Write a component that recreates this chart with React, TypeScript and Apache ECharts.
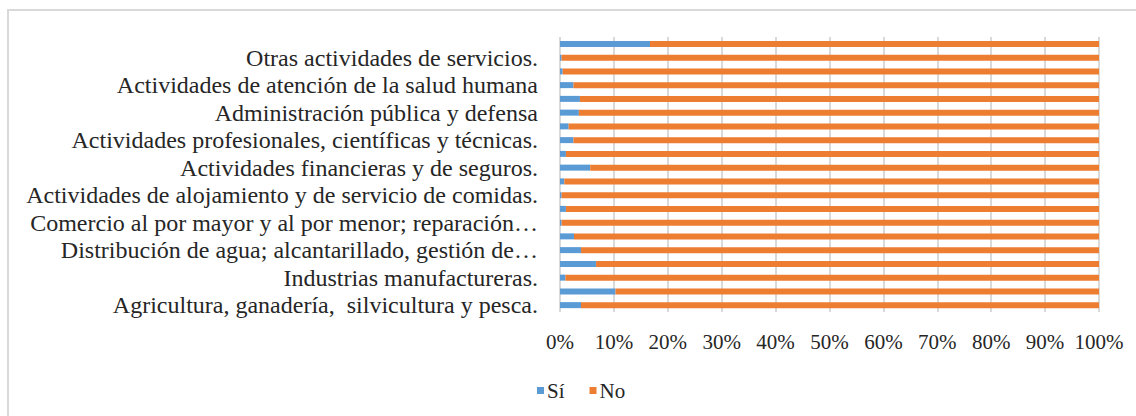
import React, { useEffect, useRef } from "react";
import * as echarts from "echarts";

// Categories from bottom (index 0) to top
const categories: string[] = [
  "Agricultura, ganadería,  silvicultura y pesca.",
  "Explotación de minas y canteras.",
  "Industrias manufactureras.",
  "Suministro de electricidad, gas, vapor y aire acondicionado.",
  "Distribución de agua; alcantarillado, gestión de…",
  "Construcción.",
  "Comercio al por mayor y al por menor; reparación…",
  "Transporte y almacenamiento.",
  "Actividades de alojamiento y de servicio de comidas.",
  "Información y comunicaciones.",
  "Actividades financieras y de seguros.",
  "Actividades inmobiliarias.",
  "Actividades profesionales, científicas y técnicas.",
  "Actividades de servicios administrativos y de apoyo.",
  "Administración pública y defensa",
  "Enseñanza.",
  "Actividades de atención de la salud humana",
  "Actividades artísticas, de entretenimiento y recreativas.",
  "Otras actividades de servicios.",
  "Actividades de los hogares como empleadores.",
];

const siValues: number[] = [
  3.9, 10.3, 1.0, 6.7, 3.9, 2.6, 0.3, 1.1, 0.3, 0.8,
  5.6, 1.1, 2.5, 1.6, 3.5, 3.7, 2.5, 0.5, 0.3, 16.7,
];

const noValues: number[] = [
  96.1, 89.7, 99.0, 93.3, 96.1, 97.4, 99.7, 98.9, 99.7, 99.2,
  94.4, 98.9, 97.5, 98.4, 96.5, 96.3, 97.5, 99.5, 99.7, 83.3,
];

const seriesNames: string[] = ["Sí", "No"];

export default function App() {
  const ref = useRef<HTMLDivElement>(null);
  useEffect(() => {
    if (!ref.current) return;
    const chart = echarts.init(ref.current, undefined, { renderer: "svg" });
    const font = "Liberation Serif";
    chart.setOption({
      animation: false,
      backgroundColor: "#ffffff",
      textStyle: { fontFamily: font },
      graphic: [
        {
          type: "rect",
          shape: { x: 8, y: 10, width: 1140, height: 420 },
          style: { fill: "none", stroke: "#d9d9d9", lineWidth: 2 },
          silent: true,
        },
      ],
      legend: {
        data: seriesNames,
        left: 532,
        top: 375,
        icon: "rect",
        itemWidth: 7,
        itemHeight: 7,
        itemGap: 25,
        textStyle: { fontFamily: font, fontSize: 21, color: "#262626", padding: [0, 0, 0, -2] },
      },
      grid: { left: 560, right: 37, top: 37, bottom: 104, containLabel: false },
      xAxis: {
        type: "value",
        min: 0,
        max: 100,
        interval: 10,
        axisLine: { show: false },
        axisTick: { show: false },
        splitLine: { show: true, lineStyle: { color: "#d9d9d9", width: 2 } },
        axisLabel: {
          formatter: "{value}%",
          fontFamily: font,
          fontSize: 21,
          color: "#262626",
          margin: 19,
        },
      },
      yAxis: {
        type: "category",
        data: categories,
        axisLine: { show: false },
        axisTick: { show: false },
        axisLabel: {
          interval: 1,
          fontFamily: font,
          fontSize: 24,
          color: "#262626",
          margin: 22,
        },
      },
      series: [
        {
          name: seriesNames[0],
          type: "bar",
          stack: "total",
          barWidth: 6,
          data: siValues,
          itemStyle: { color: "#5b9bd5" },
        },
        {
          name: seriesNames[1],
          type: "bar",
          stack: "total",
          barWidth: 6,
          data: noValues,
          itemStyle: { color: "#ed7d31" },
        },
      ],
    });
    return () => chart.dispose();
  }, []);
  return (
    <div
      ref={ref}
      style={{ position: "absolute", left: 0, top: 0, width: 1136, height: 416 }}
    />
  );
}
